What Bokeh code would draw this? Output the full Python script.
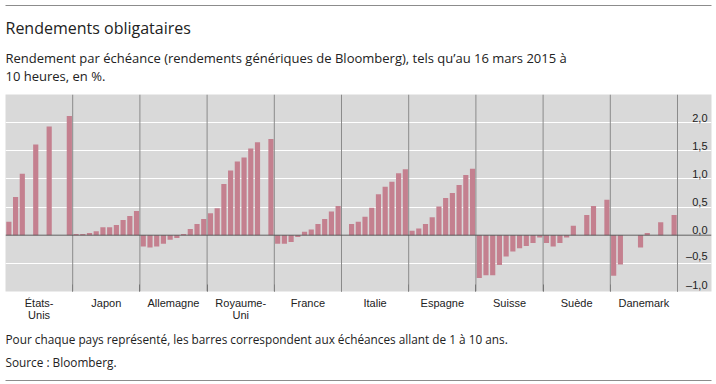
from bokeh.plotting import figure
from bokeh.models import Range1d, FixedTicker, LinearAxis, Title, Grid, Span, ColumnDataSource
from bokeh.core.properties import value
from bokeh.embed import file_html
from bokeh.resources import INLINE

# ---------------- data ----------------
countries = ["États-\nUnis", "Japon", "Allemagne", "Royaume-\nUni", "France",
             "Italie", "Espagne", "Suisse", "Suède", "Danemark"]
maturities = [1, 2, 3, 4, 5, 6, 7, 8, 9, 10]

etats_unis  = [0.24, 0.68, 1.09, None, 1.61, None, 1.93, None, None, 2.12]
japon       = [0.02, 0.02, 0.04, 0.07, 0.14, 0.14, 0.18, 0.27, 0.34, 0.43]
allemagne   = [-0.20, -0.22, -0.20, -0.15, -0.08, -0.05, 0.02, 0.11, 0.20, 0.29]
royaume_uni = [0.39, 0.48, 0.91, 1.15, 1.31, 1.38, 1.54, 1.65, None, 1.71]
france      = [-0.15, -0.15, -0.12, -0.03, 0.06, 0.10, 0.20, 0.29, 0.42, 0.52]
italie      = [None, 0.20, 0.24, 0.33, 0.49, 0.73, 0.86, 0.95, 1.10, 1.17]
espagne     = [0.08, 0.12, 0.20, 0.32, 0.51, 0.66, 0.75, 0.89, 1.07, 1.18]
suisse      = [-0.76, -0.71, -0.71, -0.53, -0.38, -0.29, -0.23, -0.19, -0.14, -0.04]
suede       = [-0.14, -0.20, -0.14, -0.04, 0.17, None, 0.36, 0.52, None, 0.63]
danemark    = [-0.72, -0.52, None, None, -0.22, 0.04, None, 0.23, None, 0.36]

series = [etats_unis, japon, allemagne, royaume_uni, france,
          italie, espagne, suisse, suede, danemark]

ytick_values = [-1.0, -0.5, 0.0, 0.5, 1.0, 1.5, 2.0]
ytick_labels = ["–1,0", "–0,5", "0,0", "0,5", "1,0", "1,5", "2,0"]
y_min, y_max = -1.0, 2.5

title_text = "Rendements obligataires"
subtitle_1 = "Rendement par échéance (rendements génériques de Bloomberg), tels qu’au 16 mars 2015 à"
subtitle_2 = "10 heures, en %."
note_text = "Pour chaque pays représenté, les barres correspondent aux échéances allant de 1 à 10 ans."
source_text = "Source : Bloomberg."

# ---------------- build ----------------
n_mat = len(maturities)
n_groups = len(countries)
label_slots = 5.06   # room for the value labels on the right, in bar slots

xs, tops = [], []
for gi, vals in enumerate(series):
    for m, v in zip(maturities, vals):
        if v is not None:
            xs.append(gi * n_mat + (m - 1) + 0.5)
            tops.append(v)
src = ColumnDataSource(dict(x=xs, top=tops))

x_end = n_groups * n_mat + label_slots
p = figure(width=716, height=384,
           x_range=Range1d(0, x_end), y_range=Range1d(y_min, y_max),
           output_backend="svg", toolbar_location=None, title=None,
           y_axis_location=None,
           min_border_left=5, min_border_right=5,
           min_border_top=94, min_border_bottom=93,
           background_fill_color="#d9d9d9", border_fill_color="white",
           outline_line_color=None)
p.xgrid.visible = False
for g in p.ygrid:
    g.visible = False

p.add_layout(Grid(dimension=1, ticker=FixedTicker(ticks=ytick_values),
                  grid_line_color="white", grid_line_width=1))

p.vbar(x="x", top="top", bottom=0, width=0.77, source=src,
       fill_color="#c4808f", line_color=None)

bounds = [(gi + 1) * n_mat for gi in range(n_groups)]
for b in bounds:
    p.add_layout(Span(location=b, dimension="height", line_color="#8a8a8a", line_width=1))
p.add_layout(Span(location=0, dimension="width", line_color="#555555", line_width=1))

p.text(x=[x_end] * len(ytick_values), y=ytick_values, text=ytick_labels,
       text_align="right", text_baseline="bottom", x_offset=-4, y_offset=-1,
       text_font=value("Liberation Sans"), text_font_size="11px", text_color="#222222")

centers = [gi * n_mat + n_mat // 2 for gi in range(n_groups)]
xa = p.xaxis[0]
xa.ticker = FixedTicker(ticks=centers, minor_ticks=bounds)
xa.major_label_overrides = {c: lab for c, lab in zip(centers, countries)}
xa.axis_line_color = None
xa.major_tick_line_color = None
xa.major_tick_in = 0
xa.major_tick_out = 0
xa.minor_tick_in = 7
xa.minor_tick_out = 0
xa.minor_tick_line_color = "#555555"
xa.major_label_standoff = 5
xa.major_label_text_font = "Liberation Sans"
xa.major_label_text_font_size = "11px"
xa.major_label_text_color = "#222222"
xa.major_label_text_line_height = 1.05

def mk_title(text, size, standoff):
    return Title(text=text, align="left", text_font="Open Sans", text_font_size=size,
                 text_font_style="normal", text_color="#222222", standoff=standoff)

def mk_spacer(standoff):
    return Title(text=" ", align="left", text_font_size="1px", standoff=standoff)

def mk_rule():
    return LinearAxis(ticker=FixedTicker(ticks=[]), axis_line_color="#8c8c8c",
                      axis_line_width=1, major_tick_in=0, major_tick_out=0,
                      minor_tick_in=0, minor_tick_out=0,
                      major_label_text_font_size="0px")

# above: stacked outward from the plot area
p.add_layout(mk_spacer(6.8), "above")
p.add_layout(mk_title(subtitle_2, "13px", -1.8), "above")
p.add_layout(mk_title(subtitle_1, "13px", -1.8), "above")
p.add_layout(mk_title(title_text, "16px", 18.8), "above")
p.add_layout(mk_rule(), "above")

# below: stacked outward from the plot area
p.add_layout(mk_title(note_text, "11.8px", 8.5), "below")
p.add_layout(mk_title(source_text, "11.8px", 1), "below")
p.add_layout(mk_spacer(6.6), "below")
p.add_layout(mk_rule(), "below")

open("out.html", "w").write(file_html(p, INLINE))
